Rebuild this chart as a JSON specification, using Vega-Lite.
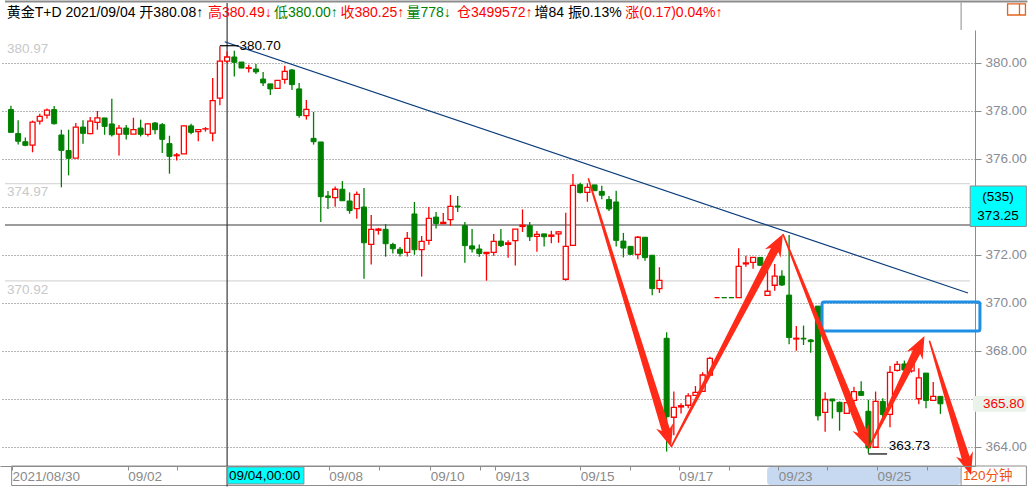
{
  "$schema": "https://vega.github.io/schema/vega-lite/v6.json",
  "width": 975,
  "height": 436,
  "autosize": {"type": "none"},
  "padding": {"left": 0, "top": 30, "right": 58, "bottom": 21},
  "background": "#ffffff",
  "config": {"view": {"stroke": null}, "font": "Liberation Sans, Noto Sans CJK SC"},
  "resolve": {"axis": {"x": "independent", "y": "independent"}},
  "datasets": {
    "candles": [
      {"i":0,"o":378.06,"h":378.22,"l":377.11,"c":377.11},
      {"i":1,"o":377.06,"h":377.61,"l":376.60,"c":376.74},
      {"i":2,"o":376.72,"h":376.90,"l":376.53,"c":376.57},
      {"i":3,"o":376.58,"h":377.60,"l":376.28,"c":377.54},
      {"i":4,"o":377.58,"h":377.89,"l":377.44,"c":377.78},
      {"i":5,"o":377.83,"h":378.10,"l":377.69,"c":378.04},
      {"i":6,"o":378.06,"h":378.21,"l":377.44,"c":377.47},
      {"i":7,"o":377.00,"h":377.22,"l":374.82,"c":376.36},
      {"i":8,"o":376.35,"h":377.22,"l":375.32,"c":376.03},
      {"i":9,"o":376.04,"h":377.50,"l":376.04,"c":377.33},
      {"i":10,"o":377.33,"h":377.61,"l":376.64,"c":377.07},
      {"i":11,"o":377.06,"h":377.75,"l":377.03,"c":377.58},
      {"i":12,"o":377.53,"h":378.00,"l":377.22,"c":377.71},
      {"i":13,"o":377.71,"h":377.71,"l":377.01,"c":377.36},
      {"i":14,"o":377.46,"h":378.51,"l":376.94,"c":377.01},
      {"i":15,"o":377.04,"h":377.42,"l":376.15,"c":377.29},
      {"i":16,"o":377.29,"h":377.42,"l":376.81,"c":377.03},
      {"i":17,"o":377.04,"h":377.72,"l":377.04,"c":377.22},
      {"i":18,"o":377.29,"h":377.64,"l":376.94,"c":377.03},
      {"i":19,"o":377.03,"h":377.50,"l":376.94,"c":377.46},
      {"i":20,"o":377.50,"h":377.54,"l":377.03,"c":377.22},
      {"i":21,"o":377.43,"h":377.50,"l":376.25,"c":376.82},
      {"i":22,"o":376.64,"h":376.97,"l":375.39,"c":376.11},
      {"i":23,"o":376.14,"h":376.25,"l":375.94,"c":376.17},
      {"i":24,"o":376.21,"h":377.40,"l":376.21,"c":377.38},
      {"i":25,"o":377.38,"h":377.47,"l":377.03,"c":377.11},
      {"i":26,"o":377.14,"h":377.25,"l":376.74,"c":377.22},
      {"i":27,"o":377.25,"h":377.33,"l":377.14,"c":377.26},
      {"i":28,"o":377.08,"h":379.38,"l":376.74,"c":378.43},
      {"i":29,"o":378.54,"h":380.70,"l":378.24,"c":380.08},
      {"i":30,"o":380.08,"h":380.49,"l":380.00,"c":380.25},
      {"i":31,"o":380.25,"h":380.51,"l":379.44,"c":380.03},
      {"i":32,"o":380.04,"h":380.04,"l":379.79,"c":379.79},
      {"i":33,"o":379.78,"h":379.93,"l":379.60,"c":379.80},
      {"i":34,"o":379.75,"h":379.96,"l":379.54,"c":379.63},
      {"i":35,"o":379.33,"h":379.63,"l":379.04,"c":379.17},
      {"i":36,"o":379.13,"h":379.13,"l":378.67,"c":378.92},
      {"i":37,"o":378.94,"h":379.28,"l":378.94,"c":379.28},
      {"i":38,"o":379.32,"h":379.89,"l":379.14,"c":379.65},
      {"i":39,"o":379.71,"h":379.75,"l":378.88,"c":379.10},
      {"i":40,"o":378.92,"h":379.17,"l":377.72,"c":377.81},
      {"i":41,"o":377.81,"h":378.46,"l":377.64,"c":378.07},
      {"i":42,"o":376.86,"h":377.96,"l":376.60,"c":376.72},
      {"i":43,"o":376.71,"h":376.71,"l":373.38,"c":374.43},
      {"i":44,"o":374.46,"h":374.67,"l":373.92,"c":374.40},
      {"i":45,"o":374.39,"h":374.85,"l":374.01,"c":374.74},
      {"i":46,"o":374.74,"h":375.08,"l":374.26,"c":374.26},
      {"i":47,"o":374.25,"h":374.61,"l":373.72,"c":373.85},
      {"i":48,"o":373.93,"h":374.65,"l":373.51,"c":374.53},
      {"i":49,"o":374.00,"h":374.79,"l":371.01,"c":372.51},
      {"i":50,"o":372.44,"h":373.67,"l":371.60,"c":373.07},
      {"i":51,"o":373.03,"h":373.13,"l":372.85,"c":373.08},
      {"i":52,"o":373.07,"h":373.29,"l":371.93,"c":372.47},
      {"i":53,"o":372.44,"h":372.51,"l":372.06,"c":372.26},
      {"i":54,"o":372.24,"h":372.33,"l":371.94,"c":372.07},
      {"i":55,"o":372.11,"h":372.96,"l":371.94,"c":372.69},
      {"i":56,"o":373.71,"h":374.21,"l":372.01,"c":372.22},
      {"i":57,"o":372.22,"h":372.79,"l":371.10,"c":372.57},
      {"i":58,"o":372.61,"h":374.00,"l":372.43,"c":373.53},
      {"i":59,"o":373.58,"h":373.79,"l":373.10,"c":373.31},
      {"i":60,"o":373.31,"h":373.75,"l":373.31,"c":373.36},
      {"i":61,"o":373.47,"h":374.50,"l":373.22,"c":374.03},
      {"i":62,"o":374.04,"h":374.46,"l":373.79,"c":374.00},
      {"i":63,"o":373.22,"h":373.38,"l":371.68,"c":372.39},
      {"i":64,"o":372.38,"h":373.08,"l":372.10,"c":372.25},
      {"i":65,"o":372.25,"h":372.44,"l":371.93,"c":372.06},
      {"i":66,"o":372.06,"h":372.11,"l":370.93,"c":372.11},
      {"i":67,"o":372.11,"h":372.88,"l":371.97,"c":372.57},
      {"i":68,"o":372.58,"h":373.08,"l":372.33,"c":372.39},
      {"i":69,"o":372.44,"h":372.61,"l":371.89,"c":372.50},
      {"i":70,"o":372.60,"h":373.08,"l":371.56,"c":373.08},
      {"i":71,"o":373.19,"h":373.90,"l":372.96,"c":373.24},
      {"i":72,"o":373.22,"h":373.38,"l":372.58,"c":372.76},
      {"i":73,"o":372.78,"h":373.00,"l":372.14,"c":372.86},
      {"i":74,"o":372.88,"h":372.88,"l":372.35,"c":372.76},
      {"i":75,"o":372.78,"h":373.01,"l":372.49,"c":372.83},
      {"i":76,"o":372.88,"h":373.00,"l":372.51,"c":372.96},
      {"i":77,"o":370.99,"h":373.76,"l":370.93,"c":372.36},
      {"i":78,"o":372.40,"h":375.38,"l":372.40,"c":374.90},
      {"i":79,"o":374.93,"h":375.01,"l":374.56,"c":374.60},
      {"i":80,"o":374.61,"h":374.99,"l":374.22,"c":374.82},
      {"i":81,"o":374.92,"h":374.92,"l":374.68,"c":374.68},
      {"i":82,"o":374.65,"h":374.89,"l":374.32,"c":374.49},
      {"i":83,"o":374.31,"h":374.46,"l":373.83,"c":373.92},
      {"i":84,"o":374.21,"h":374.68,"l":372.35,"c":372.61},
      {"i":85,"o":372.58,"h":372.92,"l":371.90,"c":372.29},
      {"i":86,"o":372.36,"h":372.36,"l":372.00,"c":372.03},
      {"i":87,"o":372.03,"h":372.79,"l":371.82,"c":372.74},
      {"i":88,"o":372.74,"h":372.74,"l":371.76,"c":371.89},
      {"i":89,"o":371.99,"h":371.99,"l":370.32,"c":370.60},
      {"i":90,"o":370.60,"h":371.49,"l":370.42,"c":370.94},
      {"i":91,"o":368.53,"h":368.78,"l":363.81,"c":365.26},
      {"i":92,"o":365.24,"h":366.31,"l":364.49,"c":365.65},
      {"i":93,"o":365.67,"h":365.82,"l":365.40,"c":365.72},
      {"i":94,"o":365.74,"h":366.24,"l":365.61,"c":366.13},
      {"i":95,"o":366.15,"h":366.54,"l":366.15,"c":366.28},
      {"i":96,"o":366.32,"h":367.11,"l":366.32,"c":367.00},
      {"i":97,"o":367.00,"h":367.76,"l":367.00,"c":367.69},
      {"i":98,"o":370.22,"h":370.22,"l":370.22,"c":370.22},
      {"i":99,"o":370.225,"h":370.225,"l":370.22,"c":370.22},
      {"i":100,"o":370.225,"h":370.225,"l":370.22,"c":370.22},
      {"i":101,"o":370.22,"h":372.28,"l":370.22,"c":371.53},
      {"i":102,"o":371.63,"h":371.97,"l":371.51,"c":371.67},
      {"i":103,"o":371.69,"h":371.90,"l":371.43,"c":371.90},
      {"i":104,"o":371.90,"h":371.90,"l":371.57,"c":371.57},
      {"i":105,"o":370.32,"h":371.58,"l":370.32,"c":370.49},
      {"i":106,"o":370.74,"h":371.62,"l":370.51,"c":371.12},
      {"i":107,"o":371.12,"h":371.36,"l":370.71,"c":370.75},
      {"i":108,"o":370.33,"h":372.83,"l":368.28,"c":368.56},
      {"i":109,"o":368.50,"h":369.04,"l":368.01,"c":368.53},
      {"i":110,"o":368.53,"h":369.06,"l":368.25,"c":368.50},
      {"i":111,"o":368.46,"h":368.50,"l":367.93,"c":368.39},
      {"i":112,"o":369.87,"h":369.87,"l":365.10,"c":365.30},
      {"i":113,"o":365.44,"h":366.28,"l":364.64,"c":365.98},
      {"i":114,"o":366.00,"h":366.00,"l":365.19,"c":365.92},
      {"i":115,"o":365.86,"h":365.90,"l":364.68,"c":365.47},
      {"i":116,"o":365.40,"h":365.85,"l":365.40,"c":365.85},
      {"i":117,"o":365.94,"h":366.51,"l":365.40,"c":366.31},
      {"i":118,"o":366.31,"h":366.74,"l":366.15,"c":366.15},
      {"i":119,"o":365.49,"h":365.97,"l":363.73,"c":363.96},
      {"i":120,"o":363.99,"h":366.31,"l":363.99,"c":365.90},
      {"i":121,"o":365.90,"h":366.03,"l":365.25,"c":365.35},
      {"i":122,"o":365.36,"h":367.38,"l":364.82,"c":367.11},
      {"i":123,"o":367.19,"h":367.58,"l":367.15,"c":367.44},
      {"i":124,"o":367.46,"h":367.60,"l":367.15,"c":367.21},
      {"i":125,"o":367.17,"h":367.65,"l":367.10,"c":367.50},
      {"i":126,"o":366.01,"h":367.28,"l":365.78,"c":366.88},
      {"i":127,"o":367.08,"h":367.08,"l":365.61,"c":365.94},
      {"i":128,"o":365.94,"h":366.71,"l":365.94,"c":366.11},
      {"i":129,"o":366.11,"h":366.11,"l":365.38,"c":365.80}
    ],
    "lines": [
      {"kind":"light","x":-0.8242,"x2":133.104,"y":374.97,"y2":374.97},
      {"kind":"light","x":-0.8242,"x2":133.104,"y":370.92,"y2":370.92},
      {"kind":"cross","x":-0.8242,"x2":133.104,"y":373.25,"y2":373.25},
      {"kind":"cross","x":30,"x2":30,"y":382.5,"y2":362.35},
      {"kind":"trend","x":29.67,"x2":132.83,"y":380.8875,"y2":370.417},
      {"kind":"mark","x":29,"x2":31.6,"y":380.72,"y2":380.72},
      {"kind":"mark","x":119,"x2":121.6,"y":363.71,"y2":363.71},
      {"kind":"top","x":-0.8242,"x2":141.07,"y":382.5625,"y2":382.5625},
      {"kind":"frame","x":131.87,"x2":131.87,"y":382.52,"y2":381.375},
      {"kind":"frame","x":131.87,"x2":131.87,"y":363.208,"y2":362.396},
      {"kind":"icon","x":139.97,"x2":139.97,"y":382.46,"y2":382.0}
    ],
    "boxes": [
      {"kind":"hl","x":104.95,"x2":131.8,"y":363.17,"y2":362.42},
      {"kind":"band","x":0.096,"x2":140.93,"y":363.208,"y2":362.396},
      {"kind":"cyan","x":30.08,"x2":40.66,"y":363.17,"y2":362.46},
      {"kind":"cyan","x":133.13,"x2":140.93,"y":374.875,"y2":373.19},
      {"kind":"pale","x":133.52,"x2":140.93,"y":366.13,"y2":365.47},
      {"kind":"blue","x":112.57,"x2":134.48,"y":370.04,"y2":368.83},
      {"kind":"icon","x":138.32,"x2":140.8,"y":382.46,"y2":382.0}
    ],
    "arrows": [
      {"a":1,"k":1,"x":80.019,"y":375.186},
      {"a":1,"k":2,"x":90.335,"y":364.664},
      {"a":1,"k":3,"x":89.542,"y":364.764},
      {"a":1,"k":4,"x":91.621,"y":364.000},
      {"a":1,"k":5,"x":91.902,"y":364.987},
      {"a":1,"k":6,"x":91.436,"y":364.768},
      {"a":1,"k":7,"x":80.229,"y":375.206},
      {"a":2,"k":1,"x":91.718,"y":363.984},
      {"a":2,"k":2,"x":106.494,"y":372.130},
      {"a":2,"k":3,"x":106.819,"y":371.890},
      {"a":2,"k":4,"x":107.143,"y":372.875},
      {"a":2,"k":5,"x":104.635,"y":372.241},
      {"a":2,"k":6,"x":105.474,"y":372.294},
      {"a":2,"k":7,"x":91.524,"y":364.016},
      {"a":3,"k":1,"x":107.041,"y":372.863},
      {"a":3,"k":2,"x":117.589,"y":364.588},
      {"a":3,"k":3,"x":116.772,"y":364.667},
      {"a":3,"k":4,"x":119.052,"y":363.958},
      {"a":3,"k":5,"x":119.063,"y":364.949},
      {"a":3,"k":6,"x":118.659,"y":364.719},
      {"a":3,"k":7,"x":107.245,"y":372.888},
      {"a":4,"k":1,"x":119.150,"y":363.943},
      {"a":4,"k":2,"x":126.191,"y":367.876},
      {"a":4,"k":3,"x":126.533,"y":367.638},
      {"a":4,"k":4,"x":126.786,"y":368.625},
      {"a":4,"k":5,"x":124.324,"y":367.974},
      {"a":4,"k":6,"x":125.160,"y":368.034},
      {"a":4,"k":7,"x":118.954,"y":363.973},
      {"a":5,"k":1,"x":127.368,"y":368.419},
      {"a":5,"k":2,"x":131.953,"y":363.497},
      {"a":5,"k":3,"x":131.160,"y":363.596},
      {"a":5,"k":4,"x":133.242,"y":362.833},
      {"a":5,"k":5,"x":133.520,"y":363.820},
      {"a":5,"k":6,"x":133.054,"y":363.601},
      {"a":5,"k":7,"x":127.577,"y":368.439}
    ],
    "header": [
      {"t":"黄金T+D 2021/09/04 开380.08↑","x":-0.59,"y":382.08,"kind":"black"},
      {"t":"高380.49↓","x":27.34,"y":382.08,"kind":"red"},
      {"t":"低380.00↑","x":36.5,"y":382.08,"kind":"green"},
      {"t":"收380.25↑","x":45.74,"y":382.08,"kind":"red"},
      {"t":"量778↓","x":54.9,"y":382.08,"kind":"green"},
      {"t":"仓3499572↑","x":61.9,"y":382.08,"kind":"red"},
      {"t":"增84 振0.13%","x":72.66,"y":382.08,"kind":"black"},
      {"t":"涨(0.17)0.04%↑","x":85.26,"y":382.08,"kind":"red"}
    ],
    "notesL": [
      {"t":"380.97","x":-0.55,"y":380.58,"kind":"light"},
      {"t":"374.97","x":-0.55,"y":374.64,"kind":"light"},
      {"t":"370.92","x":-0.55,"y":370.56,"kind":"light"},
      {"t":"380.70","x":31.73,"y":380.72,"kind":"black"},
      {"t":"363.73","x":121.84,"y":364.05,"kind":"black"},
      {"t":"09/04,00:00","x":30.25,"y":362.79,"kind":"black"},
      {"t":"120分钟","x":132.14,"y":362.79,"kind":"orange"}
    ],
    "notesC": [
      {"t":"(535)","x":136.99,"y":374.42,"kind":"black"},
      {"t":"373.25","x":136.99,"y":373.62,"kind":"black"},
      {"t":"365.80","x":137.77,"y":365.8,"kind":"red"}
    ]
  },
  "layer": [
    {
      "data": {"name": "boxes"},
      "transform": [{"filter": "datum.kind === 'hl'"}],
      "mark": {"type": "rect", "fill": "#c6d9f1", "cornerRadius": 3},
      "encoding": {
        "x": {"field": "x", "type": "quantitative", "scale": {"domain": [-0.8242, 133.104], "nice": false, "zero": false}, "axis": null},
        "x2": {"field": "x2"},
        "y": {"field": "y", "type": "quantitative", "scale": {"domain": [363.2083, 381.375], "nice": false, "zero": false}, "axis": null},
        "y2": {"field": "y2"}
      }
    },
    {
      "data": {"name": "boxes"},
      "transform": [{"filter": "datum.kind === 'band'"}],
      "mark": {"type": "rect", "fill": "transparent", "stroke": "#8c8c8c", "strokeWidth": 1},
      "encoding": {
        "x": {"field": "x", "type": "quantitative", "scale": {"domain": [-0.8242, 133.104], "nice": false, "zero": false}, "axis": null},
        "x2": {"field": "x2"},
        "y": {"field": "y", "type": "quantitative", "scale": {"domain": [363.2083, 381.375], "nice": false, "zero": false}, "axis": null},
        "y2": {"field": "y2"}
      }
    },
    {
      "data": {"name": "lines"},
      "transform": [{"filter": "datum.kind === 'light'"}],
      "mark": {"type": "rule", "color": "#cfcfcf", "strokeWidth": 1},
      "encoding": {
        "x": {"field": "x", "type": "quantitative", "scale": {"domain": [-0.8242, 133.104], "nice": false, "zero": false}, "axis": null},
        "x2": {"field": "x2"},
        "y": {"field": "y", "type": "quantitative", "scale": {"domain": [363.2083, 381.375], "nice": false, "zero": false}, "axis": null},
        "y2": {"field": "y2"}
      }
    },
    {
      "data": {"name": "lines"},
      "transform": [{"filter": "datum.kind === 'cross'"}],
      "mark": {"type": "rule", "color": "#3a3a3a", "strokeWidth": 1.2},
      "encoding": {
        "x": {"field": "x", "type": "quantitative", "scale": {"domain": [-0.8242, 133.104], "nice": false, "zero": false}, "axis": null},
        "x2": {"field": "x2"},
        "y": {"field": "y", "type": "quantitative", "scale": {"domain": [363.2083, 381.375], "nice": false, "zero": false}, "axis": null},
        "y2": {"field": "y2"}
      }
    },
    {
      "data": {"name": "candles"},
      "transform": [{"filter": "datum.c >= datum.o"}],
      "mark": {"type": "rule", "color": "#ff0000", "strokeWidth": 1.3},
      "encoding": {
        "x": {"field": "i", "type": "quantitative", "scale": {"domain": [-0.8242, 133.104], "nice": false, "zero": false},
          "axis": {"orient": "bottom", "title": null, "grid": false, "zindex": 1,
            "values": [0.14, 16.2, 23.1, 44.1, 51.1, 58.2, 65.1, 67.2, 79.0, 85.9, 92.7, 99.6, 106.5, 113.3, 120.2, 127.1],
            "labelExpr": "datum.value < 1 ? '2021/08/30' : datum.value < 17 ? '09/02' : datum.value < 40 ? '' : datum.value < 45 ? '09/08' : datum.value < 55 ? '' : datum.value < 59 ? '09/10' : datum.value < 66 ? '' : datum.value < 68 ? '09/13' : datum.value < 80 ? '09/15' : datum.value < 90 ? '' : datum.value < 93 ? '09/17' : datum.value < 100 ? '' : datum.value < 107 ? '09/23' : datum.value < 115 ? '' : datum.value < 121 ? '09/25' : ''",
            "domainColor": "#8c8c8c", "tickColor": "#8c8c8c", "tickSize": 4,
            "labelAlign": "left", "labelBaseline": "middle", "labelPadding": 6, "labelDx": 1,
            "labelColor": "#8a8a8a", "labelFont": "Liberation Sans", "labelFontSize": 13.5,
            "labelOverlap": false, "labelFlush": false, "labelBound": false}},
        "y": {"field": "l", "type": "quantitative", "scale": {"domain": [363.2083, 381.375], "nice": false, "zero": false},
          "axis": {"orient": "right", "title": null, "values": [364, 366, 368, 370, 372, 374, 376, 378, 380],
            "labelExpr": "datum.value == 374 || datum.value == 366 ? '' : format(datum.value, '.2f')",
            "grid": true, "gridDash": [1, 2], "gridColor": "#6e6e6e", "gridWidth": 1,
            "domainColor": "#8c8c8c", "tickColor": "#8c8c8c", "tickSize": 6, "labelPadding": 4,
            "labelColor": "#888c96", "labelFont": "Liberation Sans", "labelFontSize": 13.5,
            "labelAlign": "left", "labelBaseline": "middle", "labelOverlap": false, "labelFlush": false, "labelBound": false}},
        "y2": {"field": "h"}
      }
    },
    {
      "data": {"name": "candles"},
      "transform": [{"filter": "datum.c < datum.o"}],
      "mark": {"type": "rule", "color": "#008000", "strokeWidth": 1.3},
      "encoding": {
        "x": {"field": "i", "type": "quantitative", "scale": {"domain": [-0.8242, 133.104], "nice": false, "zero": false}, "axis": null},
        "y": {"field": "l", "type": "quantitative", "scale": {"domain": [363.2083, 381.375], "nice": false, "zero": false}, "axis": null},
        "y2": {"field": "h"}
      }
    },
    {
      "data": {"name": "candles"},
      "transform": [{"filter": "datum.c >= datum.o"}],
      "mark": {"type": "bar", "size": 5, "fill": "#ffffff", "stroke": "#ff0000", "strokeWidth": 1.3},
      "encoding": {
        "x": {"field": "i", "type": "quantitative", "scale": {"domain": [-0.8242, 133.104], "nice": false, "zero": false}, "axis": null},
        "y": {"field": "o", "type": "quantitative", "scale": {"domain": [363.2083, 381.375], "nice": false, "zero": false}, "axis": null},
        "y2": {"field": "c"}
      }
    },
    {
      "data": {"name": "candles"},
      "transform": [{"filter": "datum.c < datum.o"}],
      "mark": {"type": "bar", "size": 5, "fill": "#008000", "stroke": "#008000", "strokeWidth": 1},
      "encoding": {
        "x": {"field": "i", "type": "quantitative", "scale": {"domain": [-0.8242, 133.104], "nice": false, "zero": false}, "axis": null},
        "y": {"field": "o", "type": "quantitative", "scale": {"domain": [363.2083, 381.375], "nice": false, "zero": false}, "axis": null},
        "y2": {"field": "c"}
      }
    },
    {
      "data": {"name": "lines"},
      "transform": [{"filter": "datum.kind === 'trend'"}],
      "mark": {"type": "rule", "color": "#0b3d7c", "strokeWidth": 1.2},
      "encoding": {
        "x": {"field": "x", "type": "quantitative", "scale": {"domain": [-0.8242, 133.104], "nice": false, "zero": false}, "axis": null},
        "x2": {"field": "x2"},
        "y": {"field": "y", "type": "quantitative", "scale": {"domain": [363.2083, 381.375], "nice": false, "zero": false}, "axis": null},
        "y2": {"field": "y2"}
      }
    },
    {
      "data": {"name": "lines"},
      "transform": [{"filter": "datum.kind === 'mark'"}],
      "mark": {"type": "rule", "color": "#000000", "strokeWidth": 1.2},
      "encoding": {
        "x": {"field": "x", "type": "quantitative", "scale": {"domain": [-0.8242, 133.104], "nice": false, "zero": false}, "axis": null},
        "x2": {"field": "x2"},
        "y": {"field": "y", "type": "quantitative", "scale": {"domain": [363.2083, 381.375], "nice": false, "zero": false}, "axis": null},
        "y2": {"field": "y2"}
      }
    },
    {
      "data": {"name": "boxes"},
      "transform": [{"filter": "datum.kind === 'blue'"}],
      "mark": {"type": "rect", "fill": "transparent", "stroke": "#1f8fe6", "strokeWidth": 3, "cornerRadius": 2},
      "encoding": {
        "x": {"field": "x", "type": "quantitative", "scale": {"domain": [-0.8242, 133.104], "nice": false, "zero": false}, "axis": null},
        "x2": {"field": "x2"},
        "y": {"field": "y", "type": "quantitative", "scale": {"domain": [363.2083, 381.375], "nice": false, "zero": false}, "axis": null},
        "y2": {"field": "y2"}
      }
    },
    {
      "data": {"name": "arrows"},
      "mark": {"type": "line", "filled": true, "color": "#ff2a17", "interpolate": "linear"},
      "encoding": {
        "x": {"field": "x", "type": "quantitative", "scale": {"domain": [-0.8242, 133.104], "nice": false, "zero": false}, "axis": null},
        "y": {"field": "y", "type": "quantitative", "scale": {"domain": [363.2083, 381.375], "nice": false, "zero": false}, "axis": null},
        "detail": {"field": "a", "type": "nominal"},
        "order": {"field": "k", "type": "quantitative"}
      }
    },
    {
      "data": {"name": "lines"},
      "transform": [{"filter": "datum.kind === 'frame'"}],
      "mark": {"type": "rule", "color": "#8c8c8c", "strokeWidth": 1},
      "encoding": {
        "x": {"field": "x", "type": "quantitative", "scale": {"domain": [-0.8242, 133.104], "nice": false, "zero": false}, "axis": null},
        "x2": {"field": "x2"},
        "y": {"field": "y", "type": "quantitative", "scale": {"domain": [363.2083, 381.375], "nice": false, "zero": false}, "axis": null},
        "y2": {"field": "y2"}
      }
    },
    {
      "data": {"name": "lines"},
      "transform": [{"filter": "datum.kind === 'top'"}],
      "mark": {"type": "rule", "color": "#8c8c8c", "strokeWidth": 2},
      "encoding": {
        "x": {"field": "x", "type": "quantitative", "scale": {"domain": [-0.8242, 133.104], "nice": false, "zero": false}, "axis": null},
        "x2": {"field": "x2"},
        "y": {"field": "y", "type": "quantitative", "scale": {"domain": [363.2083, 381.375], "nice": false, "zero": false}, "axis": null},
        "y2": {"field": "y2"}
      }
    },
    {
      "data": {"name": "boxes"},
      "transform": [{"filter": "datum.kind === 'cyan'"}],
      "mark": {"type": "rect", "fill": "#00ffff", "stroke": "#8c8c8c", "strokeWidth": 1},
      "encoding": {
        "x": {"field": "x", "type": "quantitative", "scale": {"domain": [-0.8242, 133.104], "nice": false, "zero": false}, "axis": null},
        "x2": {"field": "x2"},
        "y": {"field": "y", "type": "quantitative", "scale": {"domain": [363.2083, 381.375], "nice": false, "zero": false}, "axis": null},
        "y2": {"field": "y2"}
      }
    },
    {
      "data": {"name": "boxes"},
      "transform": [{"filter": "datum.kind === 'pale'"}],
      "mark": {"type": "rect", "fill": "#e9f3e9", "cornerRadius": 2},
      "encoding": {
        "x": {"field": "x", "type": "quantitative", "scale": {"domain": [-0.8242, 133.104], "nice": false, "zero": false}, "axis": null},
        "x2": {"field": "x2"},
        "y": {"field": "y", "type": "quantitative", "scale": {"domain": [363.2083, 381.375], "nice": false, "zero": false}, "axis": null},
        "y2": {"field": "y2"}
      }
    },
    {
      "data": {"name": "boxes"},
      "transform": [{"filter": "datum.kind === 'icon'"}],
      "mark": {"type": "rect", "fill": "transparent", "stroke": "#e2641c", "strokeWidth": 1.3},
      "encoding": {
        "x": {"field": "x", "type": "quantitative", "scale": {"domain": [-0.8242, 133.104], "nice": false, "zero": false}, "axis": null},
        "x2": {"field": "x2"},
        "y": {"field": "y", "type": "quantitative", "scale": {"domain": [363.2083, 381.375], "nice": false, "zero": false}, "axis": null},
        "y2": {"field": "y2"}
      }
    },
    {
      "data": {"name": "lines"},
      "transform": [{"filter": "datum.kind === 'icon'"}],
      "mark": {"type": "rule", "color": "#e2641c", "strokeWidth": 1.3},
      "encoding": {
        "x": {"field": "x", "type": "quantitative", "scale": {"domain": [-0.8242, 133.104], "nice": false, "zero": false}, "axis": null},
        "x2": {"field": "x2"},
        "y": {"field": "y", "type": "quantitative", "scale": {"domain": [363.2083, 381.375], "nice": false, "zero": false}, "axis": null},
        "y2": {"field": "y2"}
      }
    },
    {
      "data": {"name": "header"},
      "mark": {"type": "text", "align": "left", "baseline": "middle", "fontSize": 14, "font": "Liberation Sans, Noto Sans CJK SC"},
      "encoding": {
        "x": {"field": "x", "type": "quantitative", "scale": {"domain": [-0.8242, 133.104], "nice": false, "zero": false}, "axis": null},
        "y": {"field": "y", "type": "quantitative", "scale": {"domain": [363.2083, 381.375], "nice": false, "zero": false}, "axis": null},
        "text": {"field": "t"},
        "color": {"field": "kind", "type": "nominal", "legend": null,
          "scale": {"domain": ["black", "red", "green", "light", "orange"], "range": ["#000000", "#ff0000", "#008000", "#c8c8c8", "#ec5410"]}}
      }
    },
    {
      "data": {"name": "notesL"},
      "mark": {"type": "text", "align": "left", "baseline": "middle", "fontSize": 13.5, "font": "Liberation Sans, Noto Sans CJK SC"},
      "encoding": {
        "x": {"field": "x", "type": "quantitative", "scale": {"domain": [-0.8242, 133.104], "nice": false, "zero": false}, "axis": null},
        "y": {"field": "y", "type": "quantitative", "scale": {"domain": [363.2083, 381.375], "nice": false, "zero": false}, "axis": null},
        "text": {"field": "t"},
        "color": {"field": "kind", "type": "nominal", "legend": null,
          "scale": {"domain": ["black", "red", "green", "light", "orange"], "range": ["#000000", "#ff0000", "#008000", "#c8c8c8", "#ec5410"]}}
      }
    },
    {
      "data": {"name": "notesC"},
      "mark": {"type": "text", "align": "center", "baseline": "middle", "fontSize": 13.5, "font": "Liberation Sans, Noto Sans CJK SC"},
      "encoding": {
        "x": {"field": "x", "type": "quantitative", "scale": {"domain": [-0.8242, 133.104], "nice": false, "zero": false}, "axis": null},
        "y": {"field": "y", "type": "quantitative", "scale": {"domain": [363.2083, 381.375], "nice": false, "zero": false}, "axis": null},
        "text": {"field": "t"},
        "color": {"field": "kind", "type": "nominal", "legend": null,
          "scale": {"domain": ["black", "red", "green", "light", "orange"], "range": ["#000000", "#ff0000", "#008000", "#c8c8c8", "#ec5410"]}}
      }
    }
  ]
}
